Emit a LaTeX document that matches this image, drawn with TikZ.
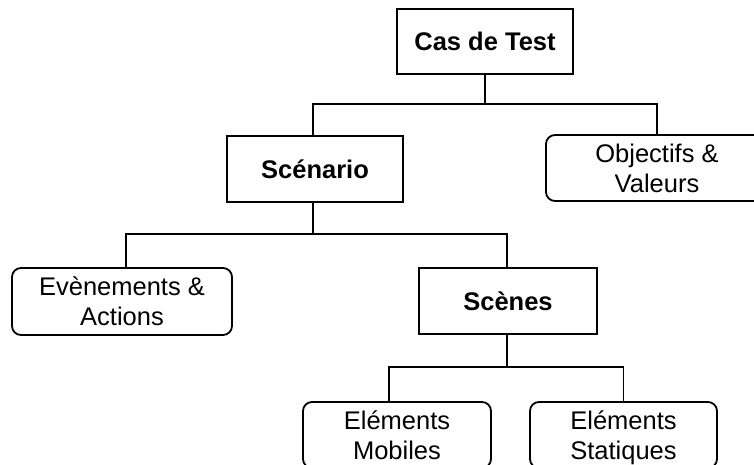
\documentclass[tikz,border=0pt]{standalone}
\usepackage{fontspec}
\setmainfont{Liberation Sans}
\begin{document}
\begin{tikzpicture}[x=1pt,y=-1pt,
  rectbox/.style={draw=black, line width=1.8pt, inner sep=0pt, align=center,
    font=\fontsize{25.5}{30}\selectfont},
  boldbox/.style={rectbox, font=\fontsize{25.5}{30}\selectfont\bfseries},
  roundbox/.style={rectbox, rounded corners=9pt},
  conn/.style={draw=black, line width=1.8pt}]
\useasboundingbox (0,0) rectangle (754,464);
\clip (0,0) rectangle (754,464);
\node[boldbox, minimum width=176pt, minimum height=65pt] (cas) at (485,41.5) {Cas de Test};
\node[boldbox, minimum width=176pt, minimum height=66pt] (scen) at (315,169) {Scénario};
\node[roundbox, minimum width=222pt, minimum height=66pt] (obj) at (657,168) {Objectifs \&\\Valeurs};
\node[roundbox, minimum width=220pt, minimum height=67pt] (even) at (122,301.5) {Evènements \&\\Actions};
\node[boldbox, minimum width=178pt, minimum height=66pt] (scenes) at (508,301) {Scènes};
\node[roundbox, minimum width=188pt, minimum height=66pt] (mob) at (397,435) {Eléments\\Mobiles};
\node[roundbox, minimum width=187pt, minimum height=66pt] (stat) at (623.5,435) {Eléments\\\raisebox{0pt}[\height][0pt]{Statiques}};
\coordinate (j1) at (485,104);
\coordinate (j2) at (313,234);
\coordinate (j3) at (507,367);
\draw[conn] (cas.south) -- (j1);
\draw[conn] ([xshift=-2pt]scen.north) |- (j1) -| (obj.north);
\draw[conn] ([xshift=-2pt]scen.south) -- (j2);
\draw[conn] ([xshift=4pt]even.north) |- (j2) -| ([xshift=-1pt]scenes.north);
\draw[conn] ([xshift=-1pt]scenes.south) -- (j3);
\draw[conn] ([xshift=-8pt]mob.north) |- (j3) -| (stat.north);
\end{tikzpicture}
\end{document}
